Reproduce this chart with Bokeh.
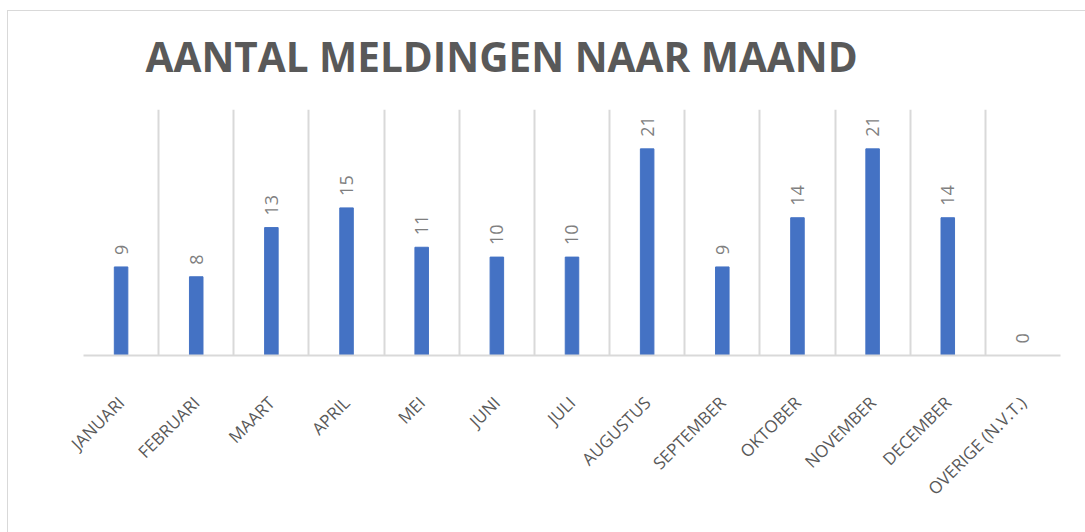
import math
from bokeh.plotting import figure
from bokeh.models import ColumnDataSource, LabelSet, Range1d, Grid, FixedTicker
from bokeh.core.properties import value
from bokeh.embed import file_html
from bokeh.resources import INLINE

months = ["JANUARI", "FEBRUARI", "MAART", "APRIL", "MEI", "JUNI", "JULI",
          "AUGUSTUS", "SEPTEMBER", "OKTOBER", "NOVEMBER", "DECEMBER", "OVERIGE (N.V.T.)"]
counts = [9, 8, 13, 15, 11, 10, 10, 21, 9, 14, 21, 14, 0]
title_text = "AANTAL MELDINGEN NAAR MAAND"

src = ColumnDataSource(dict(m=months, c=counts, t=[str(v) for v in counts]))

p = figure(x_range=months, y_range=Range1d(0, 25), width=1078, height=532,
           output_backend="svg", toolbar_location=None, title=title_text,
           min_border_left=76, min_border_right=25, min_border_top=109, min_border_bottom=177)
p.styles = {
    "margin-left": "7px",
    "background": ("linear-gradient(#d9d9d9, #d9d9d9) 0px 10px / 100% 1px no-repeat, "
                   "linear-gradient(#d9d9d9, #d9d9d9) 0px 10px / 1px 100% no-repeat, white"),
}
p.outline_line_color = None
p.background_fill_color = "white"
p.border_fill_color = None

p.title.align = "left"
p.title.offset = 62
p.title.standoff = 52
p.title.text_font = "Open Sans"
p.title.text_font_style = "bold"
p.title.text_font_size = "40.5px"
p.title.text_color = "#595959"

p.vbar(x="m", top="c", width=0.18, color="#4472C4", source=src)

p.yaxis.visible = False
p.ygrid.visible = False
p.xgrid.visible = False
p.add_layout(Grid(dimension=0, ticker=FixedTicker(ticks=list(range(len(months) + 1))),
                  grid_line_color="#D9D9D9", grid_line_width=2))

ax = p.xaxis[0]
ax.major_label_orientation = math.pi / 4
ax.major_tick_line_color = None
ax.minor_tick_line_color = None
ax.axis_line_color = "#D9D9D9"
ax.axis_line_width = 2
ax.major_label_text_font = "Open Sans"
ax.major_label_text_font_size = "17px"
ax.major_label_text_color = "#595959"
ax.major_label_standoff = 38

labels = LabelSet(x="m", y="c", text="t", source=src, angle=math.pi / 2,
                  text_align="left", text_baseline="middle", y_offset=12,
                  text_font=value("Open Sans"), text_font_size="18px", text_color="#7F7F7F")
p.add_layout(labels)

open("out.html", "w").write(file_html(p, INLINE))
